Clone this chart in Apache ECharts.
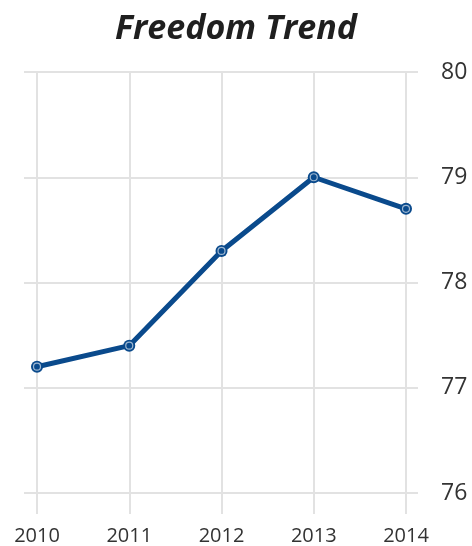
<!DOCTYPE html>
<html>
<head>
<meta charset="utf-8">
<script src="https://cdn.jsdelivr.net/npm/echarts@6/dist/echarts.min.js"></script>
<style>html,body{margin:0;padding:0;background:#fff;}#c{width:472px;height:546px;}</style>
</head>
<body>
<div id="c"></div>
<script>
var years = ['2010', '2011', '2012', '2013', '2014'];
var freedom = [77.2, 77.4, 78.3, 79.0, 78.7];
var yTicks = [76, 77, 78, 79, 80];

var grid = '#e2e2e2';
var chart = echarts.init(document.getElementById('c'));
chart.setOption({
  animation: false,
  title: {
    text: 'Freedom Trend', left: 'center', top: 7,
    textStyle: { fontFamily: 'Open Sans', fontSize: 34, fontWeight: 'bold', fontStyle: 'italic', color: '#1f1f1f' }
  },
  grid: [
    { left: 37, right: 66, top: 72, bottom: 53 },
    { left: 24, right: 54, top: 72, bottom: 53 }
  ],
  xAxis: [
    { gridIndex: 0, type: 'category', data: years, boundaryGap: false,
      axisLine: { show: false },
      axisTick: { show: true, length: 21, lineStyle: { color: grid, width: 2 } },
      splitLine: { show: true, lineStyle: { color: grid, width: 2 } },
      axisLabel: { margin: 33, fontFamily: 'Open Sans', fontSize: 20, color: '#333' } },
    { gridIndex: 1, type: 'value', show: false }
  ],
  yAxis: [
    { gridIndex: 0, type: 'value', min: yTicks[0], max: yTicks[yTicks.length - 1], interval: 1, show: false },
    { gridIndex: 1, type: 'value', position: 'right', min: yTicks[0], max: yTicks[yTicks.length - 1], interval: 1,
      axisLine: { show: false }, axisTick: { show: false },
      splitLine: { show: true, lineStyle: { color: grid, width: 2 } },
      axisLabel: { margin: 23, fontFamily: 'Open Sans', fontSize: 23, color: '#333' } }
  ],
  series: [
    { type: 'line', xAxisIndex: 0, yAxisIndex: 0, data: freedom,
      lineStyle: { color: '#0a4a8c', width: 5 },
      symbol: 'circle', symbolSize: 12,
      itemStyle: { color: '#0a4a8c' }, z: 3 },
    { type: 'scatter', xAxisIndex: 0, yAxisIndex: 0, data: freedom,
      symbol: 'circle', symbolSize: 7, silent: true,
      itemStyle: { color: 'transparent', borderColor: 'rgba(255,255,255,0.75)', borderWidth: 1.2 }, z: 4 }
  ]
});
</script>
</body>
</html>
